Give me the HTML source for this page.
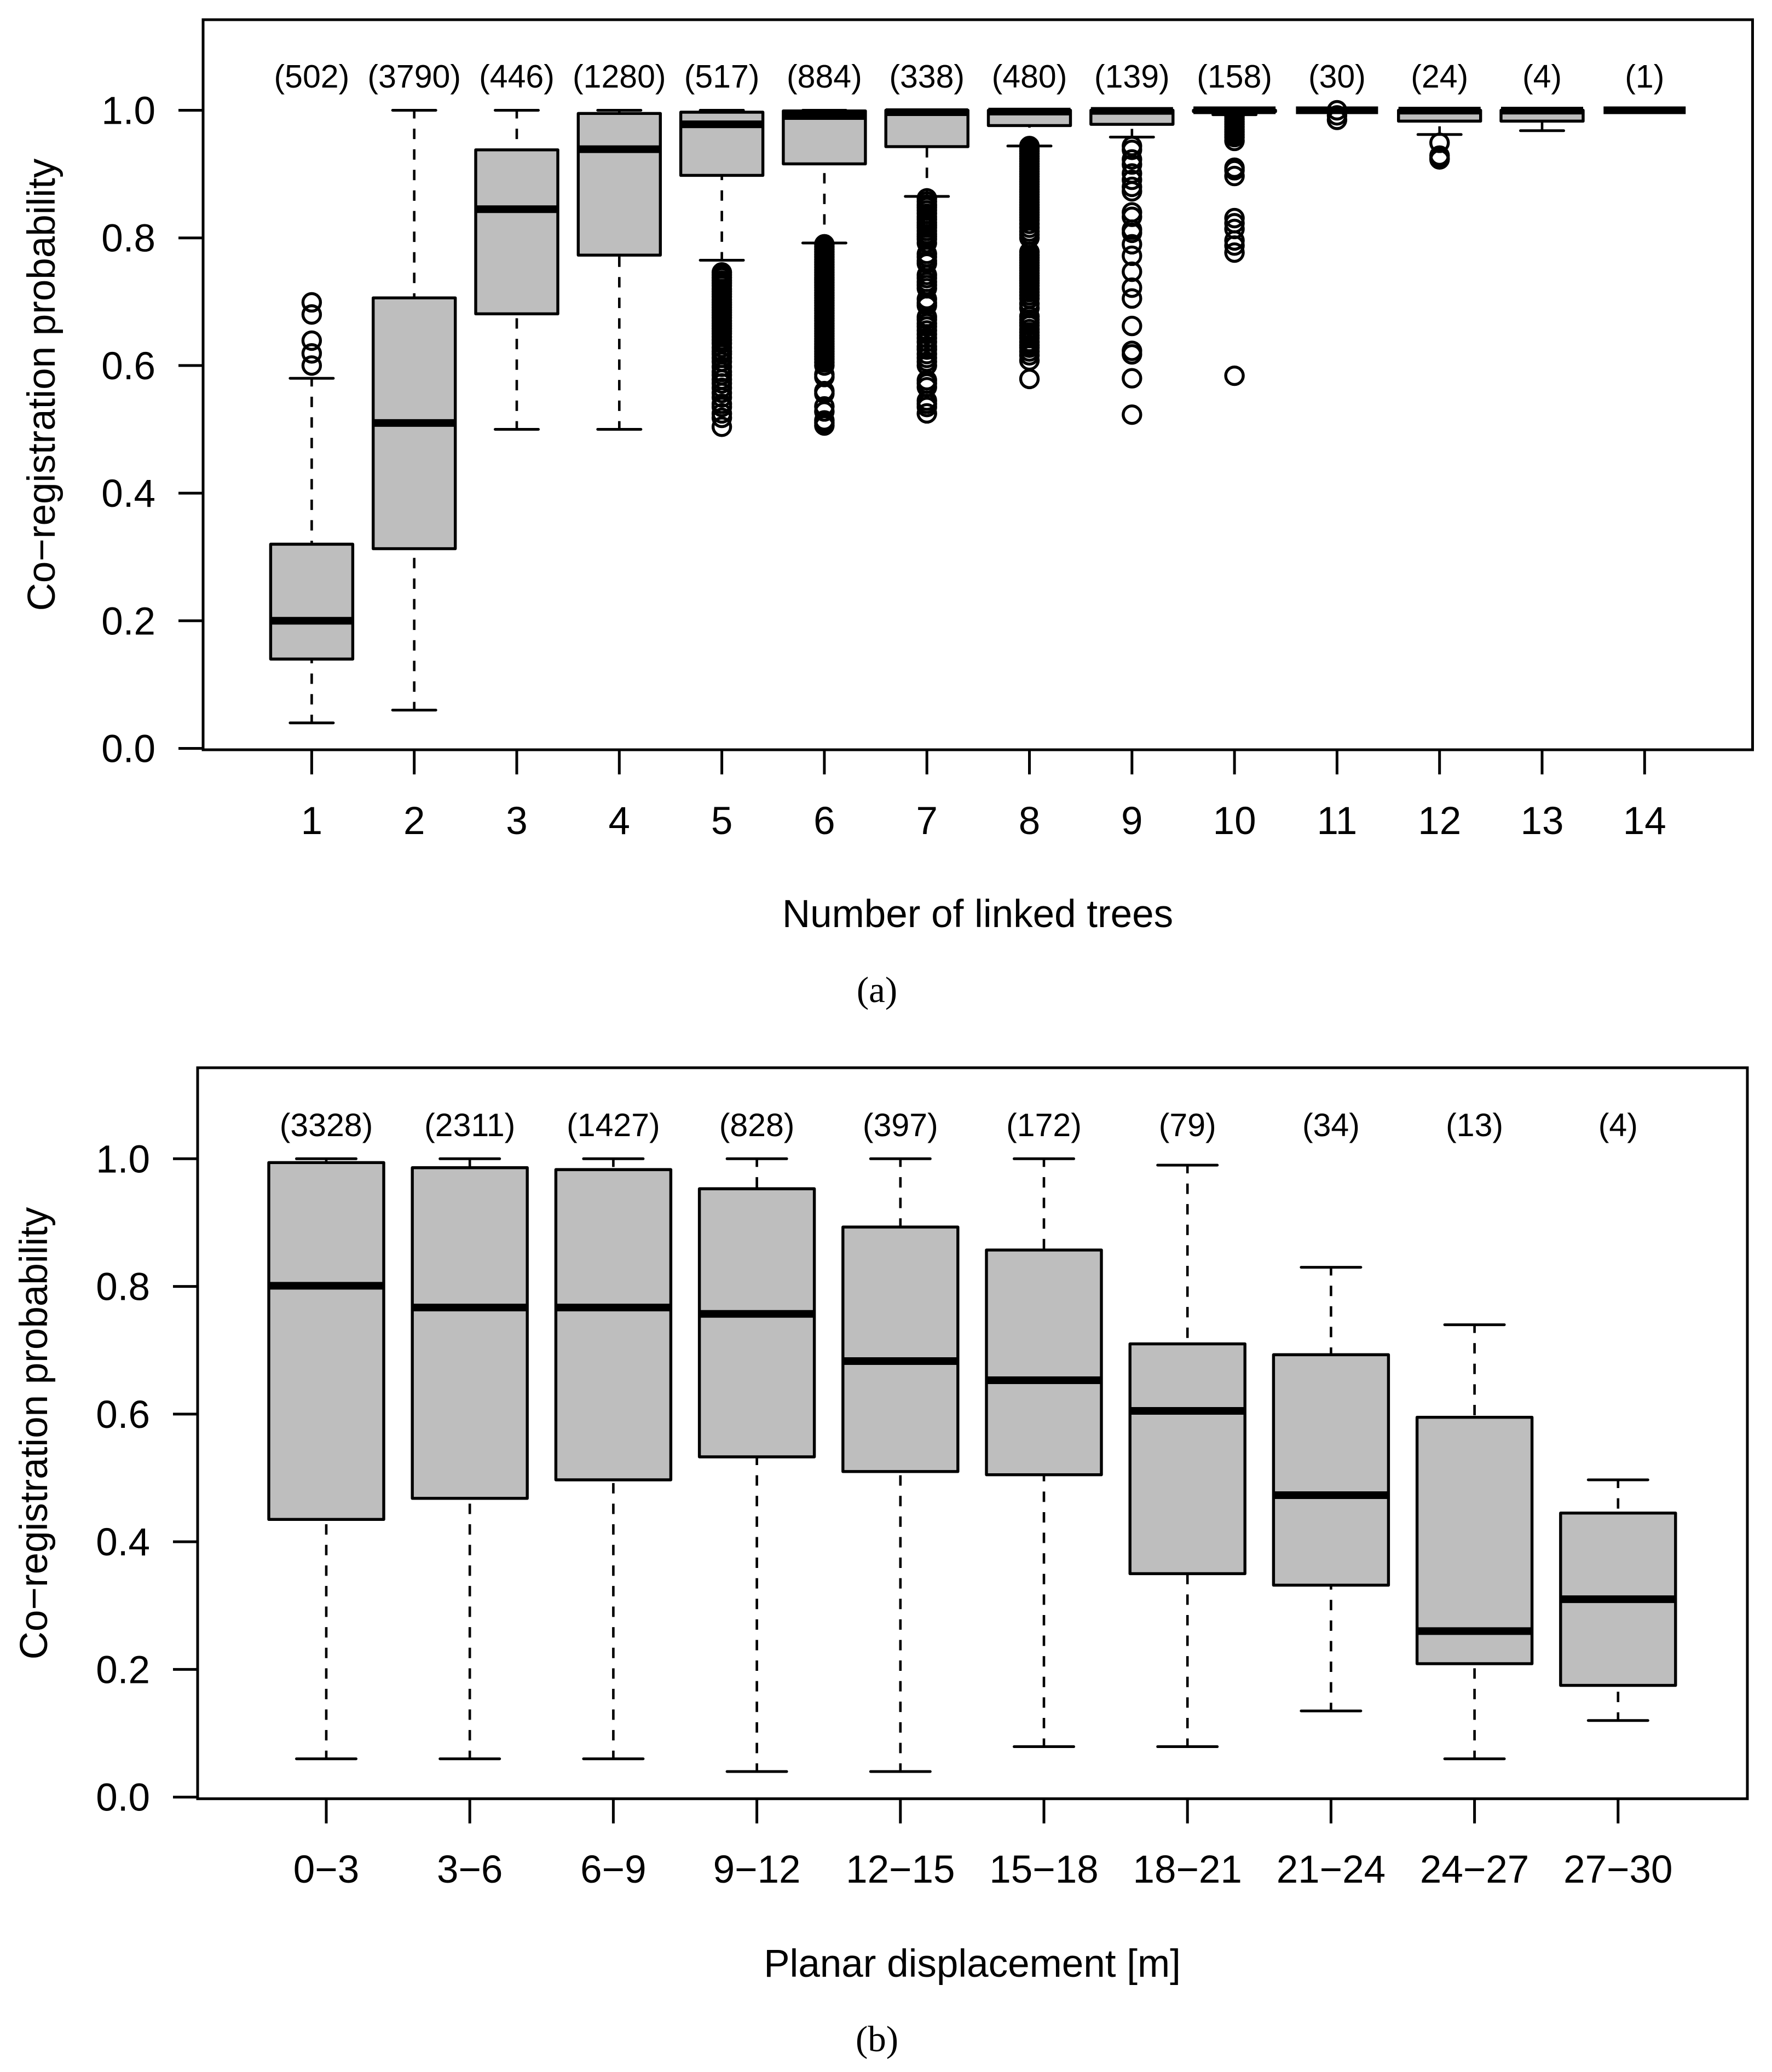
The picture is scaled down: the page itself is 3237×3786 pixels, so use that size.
<!DOCTYPE html>
<html lang="en">
<head>
<meta charset="utf-8">
<title>Co-registration probability boxplots</title>
<style>
html,body{margin:0;padding:0;background:#fff;}
svg{display:block;}
text{font-family:"Liberation Sans",sans-serif;fill:#000;}
.cap{font-family:"Liberation Serif",serif;font-size:67px;}
</style>
</head>
<body>
<svg id="fig" xmlns="http://www.w3.org/2000/svg" width="3237" height="3786" viewBox="0 0 3237 3786">
  <rect x="0" y="0" width="3237" height="3786" fill="#fff"/>
  <g id="panelA">
    <text x="100" y="703" font-size="71" text-anchor="middle" transform="rotate(-90 100 703)">Co−registration probability</text>
    <text x="1786" y="1694" font-size="71" text-anchor="middle">Number of linked trees</text>
    <text class="cap" x="1602" y="1831" text-anchor="middle">(a)</text>
  </g>
  <g id="panelB">
    <text x="86" y="2619" font-size="71" text-anchor="middle" transform="rotate(-90 86 2619)">Co−registration probability</text>
    <text x="1776" y="3612" font-size="71" text-anchor="middle">Planar displacement [m]</text>
    <text class="cap" x="1602" y="3748" text-anchor="middle">(b)</text>
  </g>
</svg>
<script>
const yTickValues = [0, 0.2, 0.4, 0.6, 0.8, 1.0];
const yTickLabels = ["0.0", "0.2", "0.4", "0.6", "0.8", "1.0"];

const categoriesA = ["1","2","3","4","5","6","7","8","9","10","11","12","13","14"];
const countsA = ["(502)","(3790)","(446)","(1280)","(517)","(884)","(338)","(480)","(139)","(158)","(30)","(24)","(4)","(1)"];
const lowWhiskerA = [0.04,0.06,0.5,0.5,0.765,0.792,0.865,0.944,0.958,0.993,1,0.962,0.968,1];
const q1A = [0.14,0.313,0.681,0.773,0.898,0.916,0.943,0.976,0.978,0.998,1,0.983,0.983,1];
const medianA = [0.2,0.51,0.845,0.939,0.978,0.991,0.997,0.998,0.999,1,1,0.9995,0.9995,1];
const q3A = [0.32,0.706,0.938,0.995,0.997,0.999,1,1,1,1,1,1,1,1];
const highWhiskerA = [0.58,1,1,1,1,1,1,1,1,1,1,1,1,1];

const outliers1 = [0.699,0.68,0.639,0.619,0.6];
const outliers5 = [0.746,0.742,0.738,0.733,0.729,0.725,0.72,0.716,0.712,0.708,0.703,0.699,0.695,0.691,0.687,0.683,0.679,0.675,0.67,0.666,0.662,0.658,0.654,0.65,0.645,0.64,0.635,0.628,0.622,0.618,0.612,0.606,0.598,0.59,0.585,0.578,0.572,0.565,0.557,0.55,0.54,0.535,0.525,0.518,0.504];
const outliers6 = [0.79,0.786,0.782,0.778,0.774,0.77,0.766,0.762,0.758,0.754,0.75,0.746,0.742,0.738,0.734,0.73,0.726,0.722,0.718,0.714,0.71,0.706,0.702,0.698,0.694,0.69,0.686,0.682,0.678,0.674,0.67,0.666,0.662,0.658,0.654,0.65,0.646,0.642,0.638,0.634,0.63,0.626,0.622,0.618,0.614,0.61,0.605,0.6,0.586,0.582,0.56,0.556,0.536,0.528,0.514,0.51,0.506];
const outliers7 = [0.862,0.857,0.852,0.848,0.843,0.838,0.833,0.829,0.824,0.82,0.816,0.811,0.806,0.802,0.798,0.792,0.775,0.77,0.764,0.76,0.742,0.737,0.731,0.726,0.721,0.704,0.698,0.694,0.676,0.672,0.666,0.661,0.655,0.649,0.643,0.637,0.63,0.625,0.618,0.612,0.606,0.6,0.577,0.572,0.566,0.545,0.54,0.535,0.525];
const outliers8 = [0.944,0.94,0.936,0.932,0.928,0.924,0.92,0.916,0.912,0.908,0.904,0.9,0.896,0.892,0.888,0.884,0.88,0.876,0.872,0.868,0.864,0.86,0.856,0.852,0.848,0.844,0.84,0.836,0.832,0.828,0.822,0.816,0.81,0.805,0.8,0.778,0.773,0.769,0.765,0.761,0.757,0.753,0.749,0.745,0.741,0.737,0.733,0.729,0.725,0.72,0.715,0.71,0.705,0.697,0.69,0.677,0.672,0.667,0.663,0.657,0.652,0.647,0.643,0.637,0.632,0.628,0.622,0.616,0.608,0.579];
const outliers9 = [0.944,0.938,0.923,0.915,0.901,0.891,0.88,0.873,0.84,0.833,0.813,0.808,0.79,0.772,0.747,0.722,0.705,0.662,0.623,0.6175,0.58,0.523];
const outliers10 = [0.99,0.986,0.982,0.978,0.974,0.97,0.966,0.962,0.958,0.952,0.91,0.906,0.897,0.831,0.823,0.814,0.796,0.788,0.777,0.584];
const outliers11 = [1,0.992,0.985];
const outliers12 = [0.949,0.929,0.925,0.923];
const outliersA = [outliers1,[],[],[],outliers5,outliers6,outliers7,outliers8,outliers9,outliers10,outliers11,outliers12,[],[]];

const categoriesB = ["0−3","3−6","6−9","9−12","12−15","15−18","18−21","21−24","24−27","27−30"];
const countsB = ["(3328)","(2311)","(1427)","(828)","(397)","(172)","(79)","(34)","(13)","(4)"];
const lowWhiskerB = [0.06,0.06,0.06,0.04,0.04,0.079,0.079,0.135,0.06,0.12];
const q1B = [0.435,0.468,0.497,0.533,0.51,0.505,0.35,0.332,0.209,0.175];
const medianB = [0.801,0.767,0.767,0.757,0.683,0.653,0.605,0.473,0.26,0.31];
const q3B = [0.994,0.986,0.983,0.953,0.893,0.857,0.71,0.693,0.595,0.445];
const highWhiskerB = [1,1,1,1,1,1,0.99,0.83,0.74,0.497];
const outliersB = [[],[],[],[],[],[],[],[],[],[]];

const NS = "http://www.w3.org/2000/svg";
function make(tag, parent, attrs) {
  const el = document.createElementNS(NS, tag);
  for (const k in attrs) el.setAttribute(k, attrs[k]);
  parent.appendChild(el);
  return el;
}

function drawPanel(cfg) {
  const root = document.getElementById(cfg.id);
  const yScale = v => cfg.y0 - cfg.yUnit * v;
  const xScale = i => cfg.x0 + cfg.xStep * i;

  const frame = make("rect", root, {x: cfg.left, y: cfg.top, width: cfg.right - cfg.left, height: cfg.bottom - cfg.top, fill: "none", stroke: "#000", "stroke-width": 5});
  
  

  yTickValues.forEach((v, i) => {
    const tick = make("line", root, {x1: cfg.left - 45, x2: cfg.left, y1: yScale(v), y2: yScale(v), stroke: "#000", "stroke-width": 5});
    
    
    const label = make("text", root, {x: cfg.left - 87, y: yScale(v) + 25, "font-size": 71, "text-anchor": "end"});
    label.textContent = yTickLabels[i];
    
    
  });

  cfg.categories.forEach((c, i) => {
    const cx = xScale(i);
    const half = cfg.boxWidth / 2;
    const capHalf = cfg.capWidth / 2;

    const tick = make("line", root, {x1: cx, x2: cx, y1: cfg.bottom, y2: cfg.bottom + 45, stroke: "#000", "stroke-width": 5});
    
    

    const tickLabel = make("text", root, {x: cx, y: cfg.xLabelY, "font-size": 71, "text-anchor": "middle"});
    tickLabel.textContent = c;
    
    

    const count = make("text", root, {x: cx, y: cfg.countY, "font-size": 59, "text-anchor": "middle"});
    count.textContent = cfg.counts[i];
    
    

    const yLow = yScale(cfg.low[i]), yHigh = yScale(cfg.high[i]);
    const yQ1 = yScale(cfg.q1[i]), yQ3 = yScale(cfg.q3[i]), yMed = yScale(cfg.median[i]);

    const whiskerLow = make("line", root, {x1: cx, x2: cx, y1: yLow, y2: yQ1, stroke: "#000", "stroke-width": 4.6, "stroke-dasharray": "19 18.6", "stroke-dashoffset": 4});
    
    

    const whiskerHigh = make("line", root, {x1: cx, x2: cx, y1: yHigh, y2: yQ3, stroke: "#000", "stroke-width": 4.6, "stroke-dasharray": "19 18.6", "stroke-dashoffset": 4});
    
    

    const capLow = make("line", root, {x1: cx - capHalf, x2: cx + capHalf, y1: yLow, y2: yLow, stroke: "#000", "stroke-width": 5, "stroke-linecap": "round"});
    
    

    const capHigh = make("line", root, {x1: cx - capHalf, x2: cx + capHalf, y1: yHigh, y2: yHigh, stroke: "#000", "stroke-width": 5, "stroke-linecap": "round"});
    
    

    const box = make("rect", root, {x: cx - half, y: yQ3, width: cfg.boxWidth, height: Math.max(yQ1 - yQ3, 0), fill: "#bebebe", stroke: "#000", "stroke-width": 5.4, "stroke-linejoin": "round"});
    
    

    const med = make("line", root, {x1: cx - half, x2: cx + half, y1: yMed, y2: yMed, stroke: "#000", "stroke-width": 14});
    
    

    cfg.outliers[i].forEach(v => {
      const dot = make("circle", root, {cx: cx, cy: yScale(v), r: 16, fill: "none", stroke: "#000", "stroke-width": 5.4});
      
      
    });
  });
}

drawPanel({
  id: "panelA", left: 371, right: 3201.5, top: 36, bottom: 1370,
  y0: 1367.5, yUnit: 1166, x0: 569.4, xStep: 187.3, boxWidth: 150, capWidth: 79,
  xLabelY: 1524, countY: 160,
  categories: categoriesA, counts: countsA, low: lowWhiskerA, q1: q1A, median: medianA, q3: q3A, high: highWhiskerA, outliers: outliersA
});
drawPanel({
  id: "panelB", left: 361, right: 3192, top: 1951, bottom: 3286.7,
  y0: 3283.7, yUnit: 1166.4, x0: 596, xStep: 262.2, boxWidth: 210, capWidth: 109,
  xLabelY: 3440, countY: 2076,
  categories: categoriesB, counts: countsB, low: lowWhiskerB, q1: q1B, median: medianB, q3: q3B, high: highWhiskerB, outliers: outliersB
});
</script>
</body>
</html>
